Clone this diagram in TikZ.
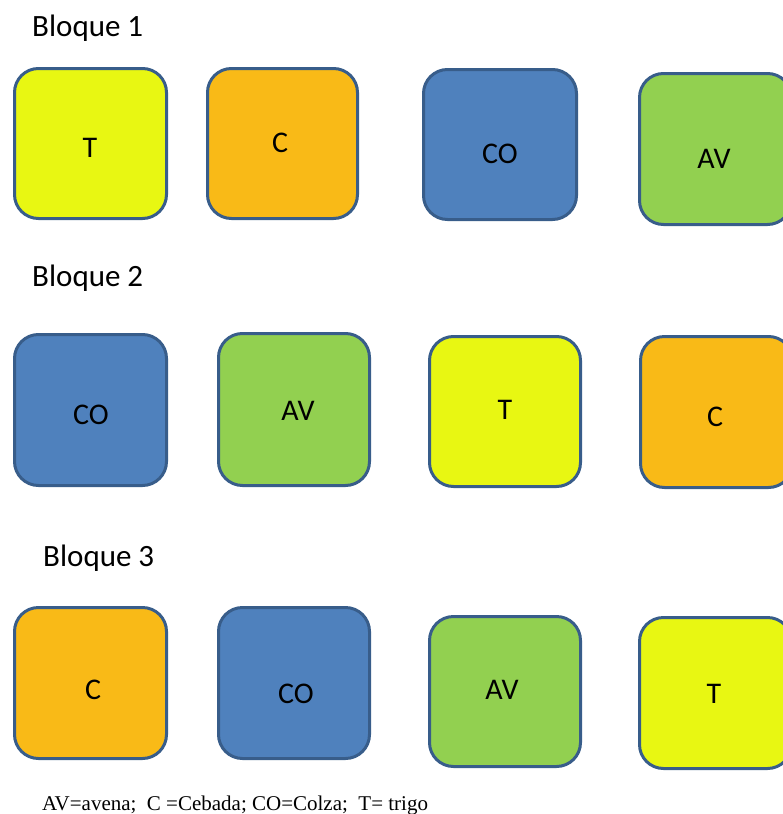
\documentclass[tikz,border=0pt]{standalone}
\usepackage{fontspec}
\setmainfont{Carlito}
\newfontfamily\legendfont{Liberation Serif}
\definecolor{cyel}{RGB}{232,247,18}
\definecolor{cora}{RGB}{249,186,23}
\definecolor{cblu}{RGB}{79,129,189}
\definecolor{cgrn}{RGB}{146,208,80}
\definecolor{cedge}{RGB}{56,93,138}
\tikzset{
  plot/.style={draw=cedge, line width=3pt, rounded corners=24pt},
  lab/.style={font=\fontsize{30}{36}\selectfont, inner sep=0pt, anchor=center},
  head/.style={font=\fontsize{31}{37}\selectfont, inner sep=0pt, anchor=base west},
}
\newcommand{\plotbox}[6]{%
  \path[plot, fill=#6] (#1pt,-#2pt) rectangle (#3pt,-#4pt);
  \node[plot, draw=none, fill=none, inner sep=0pt, minimum width={#3pt-#1pt}, minimum height={#4pt-#2pt}] (#5) at ({(#1+#3)/2*1pt},{-(#2+#4)/2*1pt}) {};}
\begin{document}
\begin{tikzpicture}[x=1pt,y=-1pt]
\useasboundingbox (0,0) rectangle (783,814);
\node[head] (h1) at (32,36) {Bloque 1};
\node[head] (h2) at (32,286) {Bloque 2};
\node[head] (h3) at (43,566) {Bloque 3};
% row 1
\plotbox{14.5}{68.5}{166.5}{218.5}{b11}{cyel}
\plotbox{207.5}{68.5}{357.5}{218.5}{b12}{cora}
\plotbox{423.5}{69.5}{576.5}{219.5}{b13}{cblu}
\plotbox{639.5}{73.5}{791.5}{224.5}{b14}{cgrn}
\node[lab] (t11) at (90,148) {T};
\node[lab] (t12) at (280,143) {C};
\node[lab] (t13) at (500,154) {CO};
\node[lab] (t14) at (714,159) {AV};
% row 2
\plotbox{14.5}{334.5}{166.5}{485.5}{b21}{cblu}
\plotbox{218.5}{333.5}{369.5}{485.5}{b22}{cgrn}
\plotbox{429.5}{336.5}{580.5}{486.5}{b23}{cyel}
\plotbox{640.5}{336.5}{792.5}{487.5}{b24}{cora}
\node[lab] (t21) at (91,415) {CO};
\node[lab] (t22) at (298,411) {AV};
\node[lab] (t23) at (505,410) {T};
\node[lab] (t24) at (715,417) {C};
% row 3
\plotbox{14.5}{607.5}{166.5}{758.5}{b31}{cora}
\plotbox{218.5}{607.5}{369.5}{758.5}{b32}{cblu}
\plotbox{429.5}{616.5}{580.5}{766.5}{b33}{cgrn}
\plotbox{639.5}{617.5}{791.5}{768.5}{b34}{cyel}
\node[lab] (t31) at (93,690) {C};
\node[lab] (t32) at (296,694) {CO};
\node[lab] (t33) at (502,690) {AV};
\node[lab] (t34) at (714,694) {T};
% legend
\node[inner sep=0pt, anchor=base west, font=\legendfont\fontsize{21}{25}\selectfont] (leg) at (42,810) {AV=avena;\ \ C =Cebada; CO=Colza;\ \ T= trigo};
\end{tikzpicture}
\end{document}
